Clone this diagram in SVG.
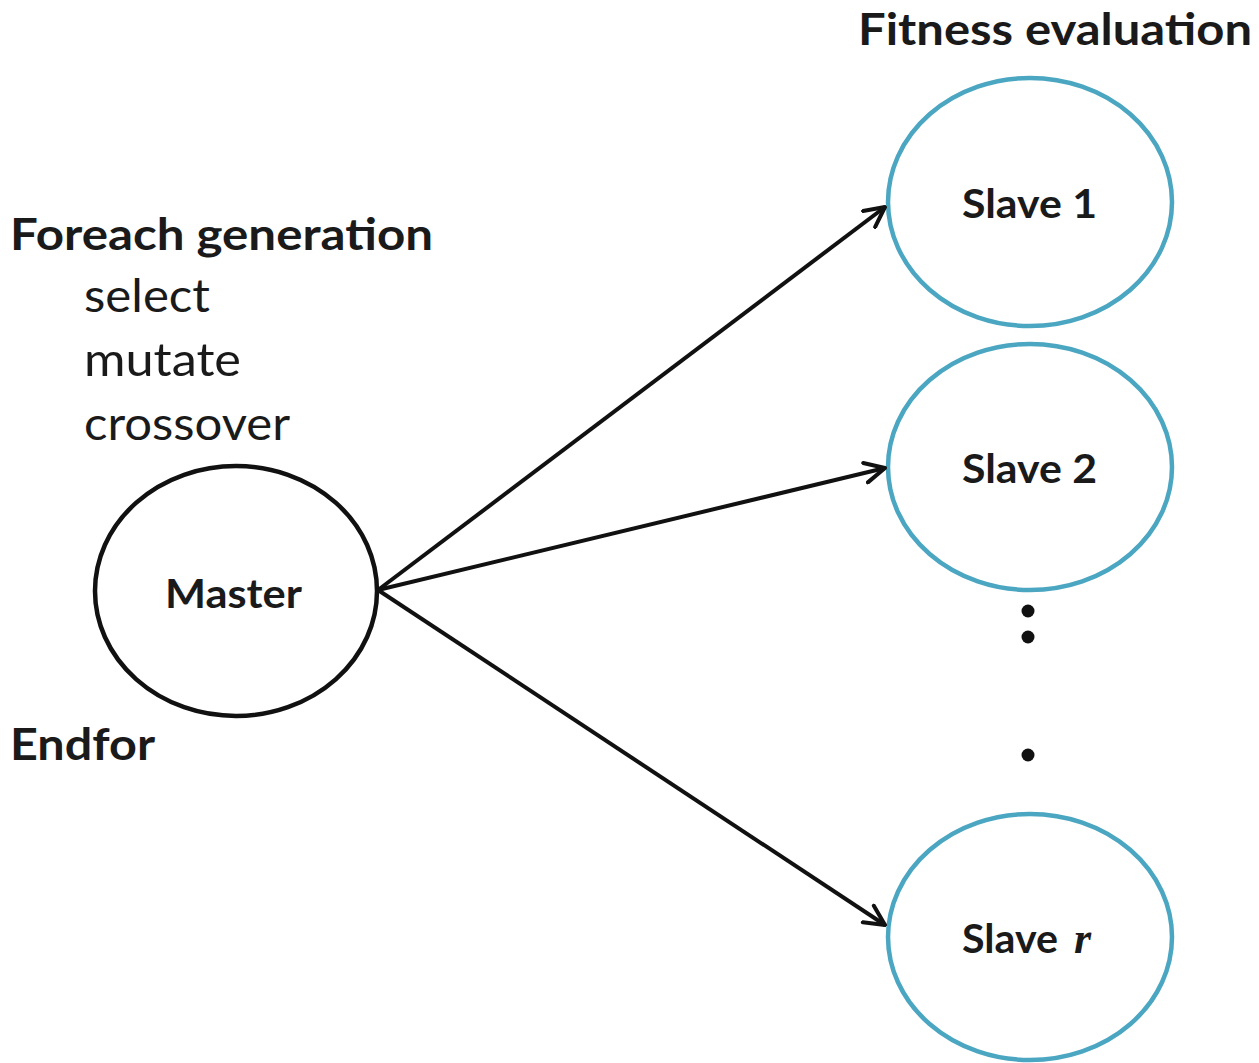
<svg xmlns="http://www.w3.org/2000/svg" width="1259" height="1063" viewBox="0 0 1259 1063">
<style>
.b{font-family:Lato,"Open Sans","Liberation Sans",sans-serif;font-weight:bold;fill:#1a1a1a}
.r{font-family:Lato,"Open Sans","Liberation Sans",sans-serif;fill:#1a1a1a}
.slave{fill:none;stroke:#4ba6c2;stroke-width:4.5}
.master{fill:none;stroke:#111;stroke-width:4.5}
.edge{stroke:#111;stroke-width:4;fill:none}
</style>
<defs>
<marker id="ah" viewBox="0 0 12 12" refX="11" refY="6" markerWidth="6" markerHeight="6" markerUnits="strokeWidth" orient="auto">
<path d="M1,1 L11,6 L1,11" fill="none" stroke="#111" stroke-width="2" stroke-linecap="round" stroke-linejoin="round"/>
</marker>
</defs>
<rect width="1259" height="1063" fill="#fff"/>
<text class="b" x="858" y="45" font-size="43" textLength="394" lengthAdjust="spacingAndGlyphs">Fitness evaluation</text>
<text class="b" x="10" y="250" font-size="43" textLength="423" lengthAdjust="spacingAndGlyphs">Foreach generation</text>
<text class="r" x="84" y="312" font-size="46" textLength="126" lengthAdjust="spacingAndGlyphs">select</text>
<text class="r" x="84" y="376" font-size="46" textLength="157" lengthAdjust="spacingAndGlyphs">mutate</text>
<text class="r" x="84" y="440" font-size="46" textLength="206" lengthAdjust="spacingAndGlyphs">crossover</text>
<text class="b" x="10" y="760" font-size="44" textLength="145" lengthAdjust="spacingAndGlyphs">Endfor</text>
<g id="master">
<ellipse class="master" cx="236" cy="591" rx="141" ry="125"/>
<text class="b" x="165" y="608" font-size="40" textLength="137" lengthAdjust="spacingAndGlyphs">Master</text>
</g>
<g id="slave1">
<ellipse class="slave" cx="1030" cy="202" rx="142" ry="124"/>
<text class="b" x="962" y="218" font-size="40" textLength="135" lengthAdjust="spacingAndGlyphs">Slave 1</text>
</g>
<g id="slave2">
<ellipse class="slave" cx="1030" cy="467" rx="142" ry="123"/>
<text class="b" x="962" y="483" font-size="40" textLength="135" lengthAdjust="spacingAndGlyphs">Slave 2</text>
</g>
<g id="slaver">
<ellipse class="slave" cx="1030" cy="937" rx="142" ry="123"/>
<text class="b" x="962" y="953" font-size="40" textLength="96" lengthAdjust="spacingAndGlyphs">Slave</text>
<text x="1074" y="953" font-family="'Liberation Serif',serif" font-style="italic" font-weight="bold" font-size="44" fill="#1a1a1a">r</text>
</g>
<g id="dots" fill="#111">
<circle cx="1028" cy="611" r="6.5"/>
<circle cx="1028" cy="637" r="6.5"/>
<circle cx="1028" cy="755" r="6.5"/>
</g>
<g id="connectors">
<line class="edge" x1="378" y1="590" x2="885" y2="207" marker-end="url(#ah)"/>
<line class="edge" x1="378" y1="590" x2="885" y2="468" marker-end="url(#ah)"/>
<line class="edge" x1="378" y1="590" x2="885" y2="925" marker-end="url(#ah)"/>
</g>
</svg>
